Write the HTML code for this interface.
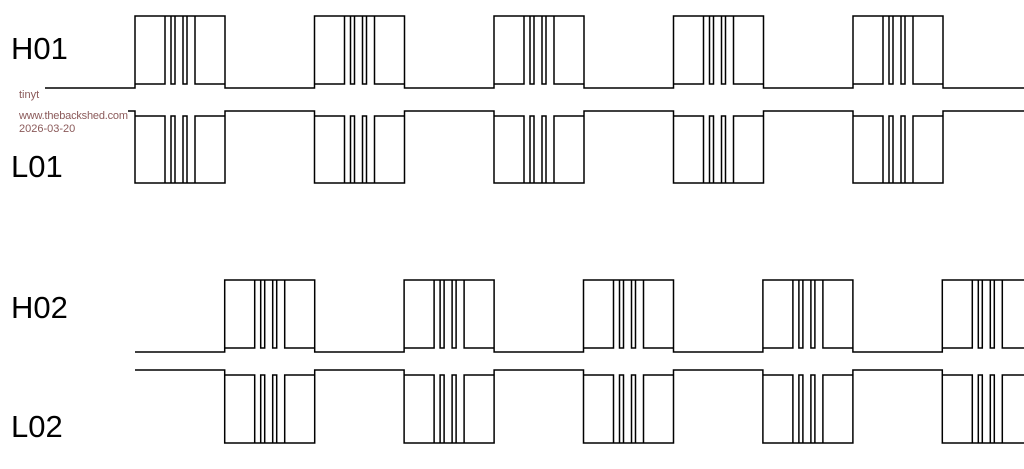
<!DOCTYPE html>
<html><head><meta charset="utf-8"><style>
html,body{margin:0;padding:0;background:#fff;width:1024px;height:469px;overflow:hidden}
svg{display:block}
.lbl{font-family:"Liberation Sans",sans-serif;font-size:31px;fill:#000}
.wm{font-family:"Liberation Sans",sans-serif;font-size:11px;fill:#8b5a5a}
</style></head><body>
<svg id="s" width="1024" height="469" viewBox="0 0 1024 469" xmlns="http://www.w3.org/2000/svg">
<text class="lbl" x="11" y="59">H01</text>
<text class="lbl" x="11" y="177">L01</text>
<text class="lbl" x="11" y="318">H02</text>
<text class="lbl" x="11" y="437">L02</text>
<text class="wm" x="19" y="98">tinyt</text>
<text class="wm" x="19" y="119" textLength="109">www.thebackshed.com</text>
<text class="wm" x="19" y="132">2026-03-20</text>
<g id="g" fill="none" stroke="#000" stroke-width="1.5"></g>
</svg>
<script>
var g=document.getElementById('g');
function P(d){var p=document.createElementNS('http://www.w3.org/2000/svg','path');p.setAttribute('d',d);g.appendChild(p);}
function wave(starts,x0,top,base,inner){
  var d='M'+x0+' '+base;
  starts.forEach(function(s){
    d+=' L'+s+' '+base+' L'+s+' '+top+' L'+(s+90)+' '+top+' L'+(s+90)+' '+base;
  });
  d+=' L1030 '+base;
  P(d);
  starts.forEach(function(s){
    P('M'+s+' '+inner+' L'+(s+30)+' '+inner+' L'+(s+30)+' '+top);
    P('M'+(s+36)+' '+top+' L'+(s+36)+' '+inner+' L'+(s+40)+' '+inner+' L'+(s+40)+' '+top);
    P('M'+(s+48)+' '+top+' L'+(s+48)+' '+inner+' L'+(s+52)+' '+inner+' L'+(s+52)+' '+top);
    P('M'+(s+60)+' '+top+' L'+(s+60)+' '+inner+' L'+(s+90)+' '+inner);
  });
}
var A=[],B=[];
for(var i=0;i<5;i++){A.push(135+i*179.5);B.push(224.7+i*179.4);}
wave(A,45,16,88,84);
wave(A,128,183,111,116);
wave(B,135,280,352,348);
wave(B,135,443,370,375);
</script>
</body></html>
